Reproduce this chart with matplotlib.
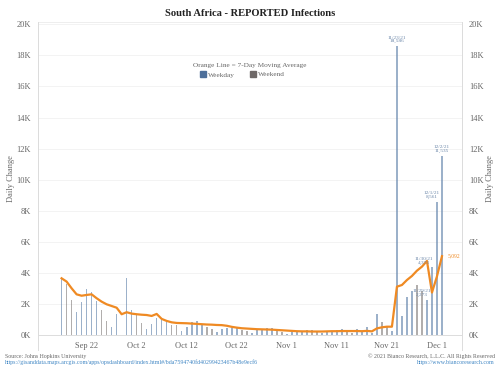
"""
South Africa reported infections – daily bars with 7-day moving average
"""

import numpy as np
import pandas as pd
import matplotlib
matplotlib.use("Agg")
import matplotlib.pyplot as plt
from matplotlib.lines import Line2D
from matplotlib.patches import Rectangle

BLUE   = "#5a7ea8"
GRAY   = "#7d7877"
ORANGE = "#ef8a23"
LABEL  = "#6d88aa"
FRAME  = "#dcdcdc"
TXT    = "#666666"
LINK   = "#3f86c4"
FONT   = "Liberation Serif"

# ── data (daily, 2021-09-17 .. 2021-12-02) ─────────────────────────────────
dates = pd.date_range("2021-09-17", "2021-12-02", freq="D")

daily = [
    3670, 3290, 2260, 1490, 2170, 2970, 2770, 2210, 1620, 950,     # Sep 17-26
    560, 1360, 0, 3700, 1630, 1310, 780, 410, 760, 1140,           # Sep 27-Oct 6
    960, 830, 700, 650, 300, 560, 880, 930, 670, 550,              # Oct 7-16
    410, 240, 410, 500, 480, 450, 350, 280, 130, 350,              # Oct 17-26
    430, 500, 450, 350, 240, 110, 200, 240, 200, 330,              # Oct 27-Nov 5
    330, 240, 130, 280, 280, 350, 410, 280, 130, 390,              # Nov 6-15
    200, 520, 130, 1380, 880, 630, 280, 18586, 1275, 2465,         # Nov 16-25
    2828, 3220, 2858, 2273, 4373, 8561, 11535,                     # Nov 26-Dec 2
]

ma7 = [
    3670, 3460, 3030, 2640, 2550, 2600, 2640, 2390, 2170, 2000,
    1890, 1780, 1360, 1490, 1400, 1360, 1330, 1310, 1250, 1380,
    1060, 930, 840, 800, 790, 780, 760, 740, 720, 700,
    690, 670, 660, 620, 550, 500, 460, 440, 420, 400,
    390, 380, 370, 350, 330, 310, 290, 270, 260, 260,
    250, 250, 250, 260, 270, 270, 280, 280, 280, 280,
    270, 290, 260, 450, 520, 560, 560, 3130, 3240, 3560,
    3820, 4160, 4420, 4786, 2756, 3797, 5092,
]

callouts = [  # (date, text, dx pts, dy pts)
    ("2021-11-23", "11/23/21\n18,586", 0, 2),
    ("2021-11-29", "11/29/21\n2,273", -4, 2),
    ("2021-11-30", "11/30/21\n4,373", -6, 2),
    ("2021-12-01", "12/1/21\n8,561", -4, 2),
    ("2021-12-02", "12/2/21\n11,535", 0, 2),
]

tick_dates  = ["2021-09-22", "2021-10-02", "2021-10-12", "2021-10-22",
               "2021-11-01", "2021-11-11", "2021-11-21", "2021-12-01"]
tick_labels = ["Sep 22", "Oct 2", "Oct 12", "Oct 22",
               "Nov 1", "Nov 11", "Nov 21", "Dec 1"]
yticks = np.arange(0, 20001, 2000)


def kfmt(v):
    return f"{int(v/1000)}K"


fig = plt.figure(figsize=(5, 3.75), dpi=100)
ax = fig.add_axes([0.076, 0.1056, 0.848, 0.836])

colors = [GRAY if d.weekday() >= 5 else BLUE for d in dates]
ax.bar(dates, daily, width=0.32, color=colors, alpha=0.6, linewidth=0, zorder=2)
ax.plot(dates, ma7, color=ORANGE, lw=1.6, zorder=3, solid_joinstyle="round")

ax.set_ylim(0, 20150)
ax.set_xlim(pd.Timestamp("2021-09-12 07:00"), pd.Timestamp("2021-12-06"))
ax.set_yticks(yticks)
ax.set_yticklabels([kfmt(v) for v in yticks])
ax.set_xticks(pd.to_datetime(tick_dates))
ax.set_xticklabels(tick_labels)
ax.tick_params(length=0, labelsize=6, colors=TXT, pad=5)
ax.grid(True, axis="y", color="#f1f1f1", lw=0.6, zorder=0)
ax.spines["top"].set_visible(False)
for s in ["left", "right", "bottom"]:
    ax.spines[s].set_color(FRAME)
    ax.spines[s].set_linewidth(0.7)
ax.set_ylabel("Daily Change", fontsize=6, color=TXT, family=FONT, labelpad=1)

ax2 = ax.twinx()
ax2.set_ylim(ax.get_ylim())
ax2.set_yticks(yticks)
ax2.set_yticklabels([kfmt(v) for v in yticks])
ax2.tick_params(length=0, labelsize=6, colors=TXT, pad=5)
for s in ax2.spines.values():
    s.set_visible(False)
ax2.set_ylabel("Daily Change", fontsize=6, color=TXT, family=FONT, labelpad=2)

for lbl in ax.get_xticklabels() + ax.get_yticklabels() + ax2.get_yticklabels():
    lbl.set_family(FONT)

# callouts
for d, txt, dx, dy in callouts:
    d = pd.Timestamp(d)
    v = daily[list(dates).index(d)]
    ax.annotate(txt, (d, v), xytext=(dx, dy), textcoords="offset points",
                ha="center", va="bottom", fontsize=3.8, color=LABEL,
                family=FONT, linespacing=0.95)
ax.annotate(f"{ma7[-1]:,}", (dates[-1], ma7[-1]), xytext=(4, 0),
            textcoords="offset points", ha="left", va="center",
            fontsize=4, color=ORANGE, family=FONT)

# frame extensions (top rule and legs under the axis)
fig.add_artist(Line2D([0.076, 0.924], [0.942, 0.942], color="#eeeeee", lw=0.7))
for x in [0.076, 0.924]:
    fig.add_artist(Line2D([x, x], [0.066, 0.942], color=FRAME, lw=0.7))

# legend
fig.text(0.50, 0.820, "Orange Line = 7-Day Moving Average", ha="center",
         fontsize=5.2, color=TXT, family=FONT)
fig.add_artist(Rectangle((0.400, 0.795), 0.012, 0.016, color="#4e6f9a",
                         transform=fig.transFigure))
fig.text(0.416, 0.796, "Weekday", fontsize=5.2, color=TXT, family=FONT)
fig.add_artist(Rectangle((0.500, 0.795), 0.012, 0.016, color="#6e6867",
                         transform=fig.transFigure))
fig.text(0.516, 0.796, "Weekend", fontsize=5.2, color=TXT, family=FONT)

# title
fig.text(0.5, 0.957, "South Africa - REPORTED Infections", ha="center",
         fontsize=7.6, fontweight="bold", color="#222222", family=FONT)

# footer
fig.text(0.01, 0.046, "Source: Johns Hopkins University", fontsize=4.2,
         color=TXT, family=FONT)
fig.text(0.01, 0.030,
         "https://gisanddata.maps.arcgis.com/apps/opsdashboard/index.html#/"
         "bda7594740fd40299423467b48e9ecf6",
         fontsize=4.2, color=LINK, family=FONT)
fig.text(0.99, 0.046, "\u00a9 2021 Bianco Research, L.L.C. All Rights Reserved",
         ha="right", fontsize=4.2, color=TXT, family=FONT)
fig.text(0.99, 0.030, "https://www.biancoresearch.com", ha="right",
         fontsize=4.2, color=LINK, family=FONT)

fig.savefig("out.png", dpi=100)
plt.close(fig)
